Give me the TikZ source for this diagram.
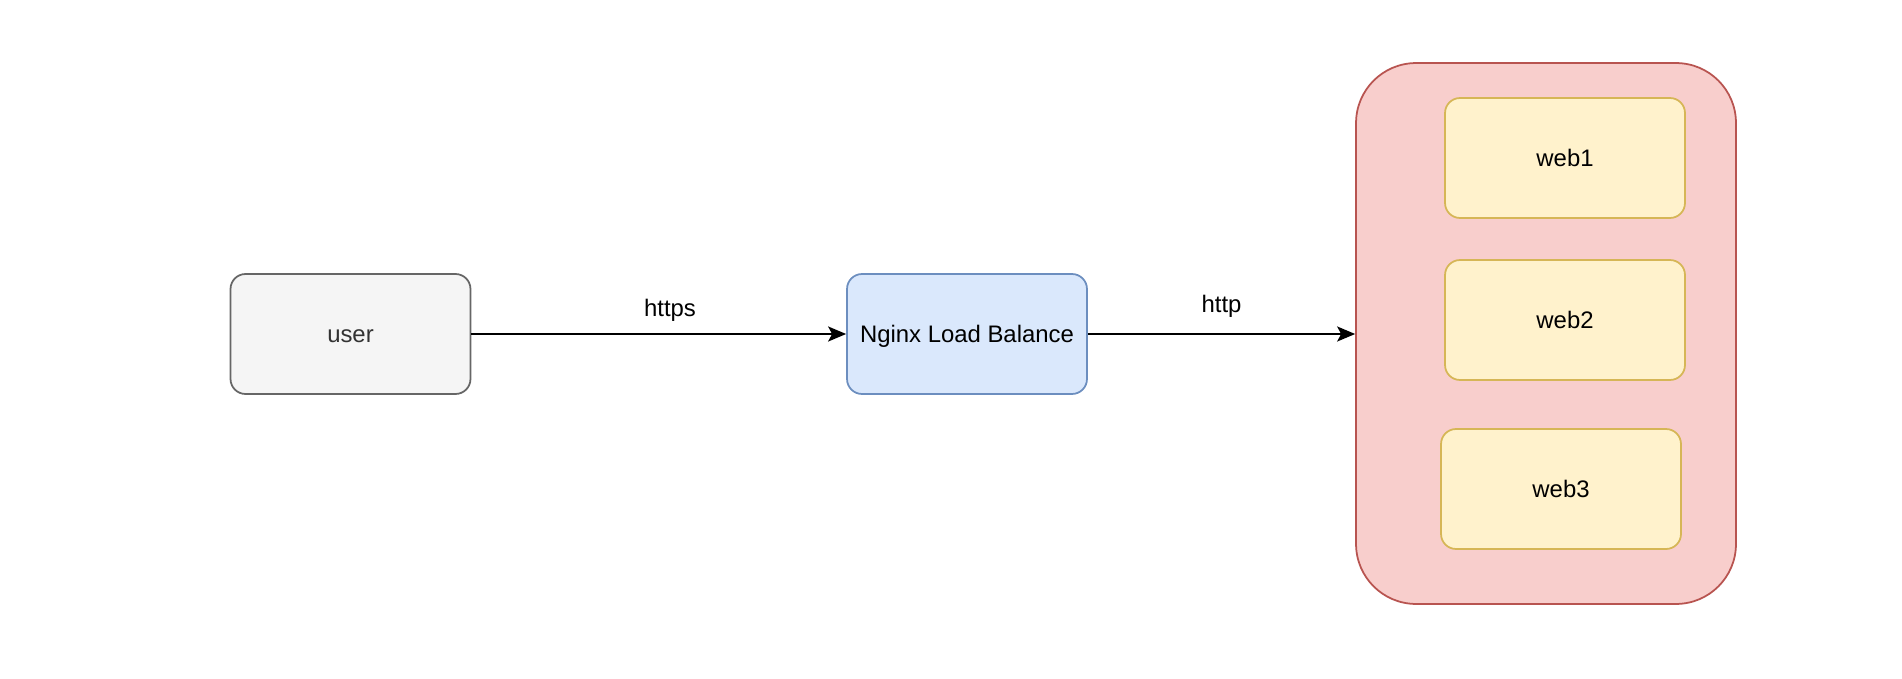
\documentclass[tikz,border=0pt]{standalone}
\usepackage{fontspec}
\setmainfont{Liberation Sans}
\usepackage{tikz}
\usetikzlibrary{arrows.meta,positioning}
\definecolor{usrfill}{HTML}{F5F5F5}
\definecolor{usrline}{HTML}{666666}
\definecolor{usrtext}{HTML}{333333}
\definecolor{lbfill}{HTML}{DAE8FC}
\definecolor{lbline}{HTML}{6C8EBF}
\definecolor{grpfill}{HTML}{F8CECC}
\definecolor{grpline}{HTML}{B85450}
\definecolor{webfill}{HTML}{FFF2CC}
\definecolor{webline}{HTML}{D6B656}

\begin{document}
\begin{tikzpicture}[x=0.02cm,y=-0.02cm,
    box/.style={draw,line width=1pt,rounded corners=0.3cm,minimum width=4.8cm,minimum height=2.4cm,text height=0.95em,text depth=0.03em,font=\fontsize{13.6}{16}\selectfont},
    webbox/.style={box,fill=webfill,draw=webline},
    link/.style={line width=1.2pt,-{Stealth[length=0.36cm,width=0.3cm,inset=0.08cm]}},
    tag/.style={font=\fontsize{13.6}{16}\selectfont}]
      \useasboundingbox (0,0) rectangle (1902,679);
      % the group of web servers
      \node[draw=grpline,fill=grpfill,line width=1pt,rounded corners=1.2cm,minimum width=7.6cm,minimum height=10.82cm] (pool) at (1546,333.5) {};
      \node[webbox] (web1) at (1565,158) {web1};
      \node[webbox] (web2) at (1565,320) {web2};
      \node[webbox] (web3) at (1561,489) {web3};
      % client and balancer
      \node[box,fill=usrfill,draw=usrline,text=usrtext] (user) at (350.5,334) {user};
      \node[box,fill=lbfill,draw=lbline] (nginx) at (967,334) {Nginx Load Balance};
      \draw[link] (user) -- (nginx) node[tag,pos=0.53,yshift=0.48cm]{https};
      \draw[link] (nginx) -- (nginx -| pool.west) node[tag,midway,yshift=0.56cm]{http};
\end{tikzpicture}
\end{document}
